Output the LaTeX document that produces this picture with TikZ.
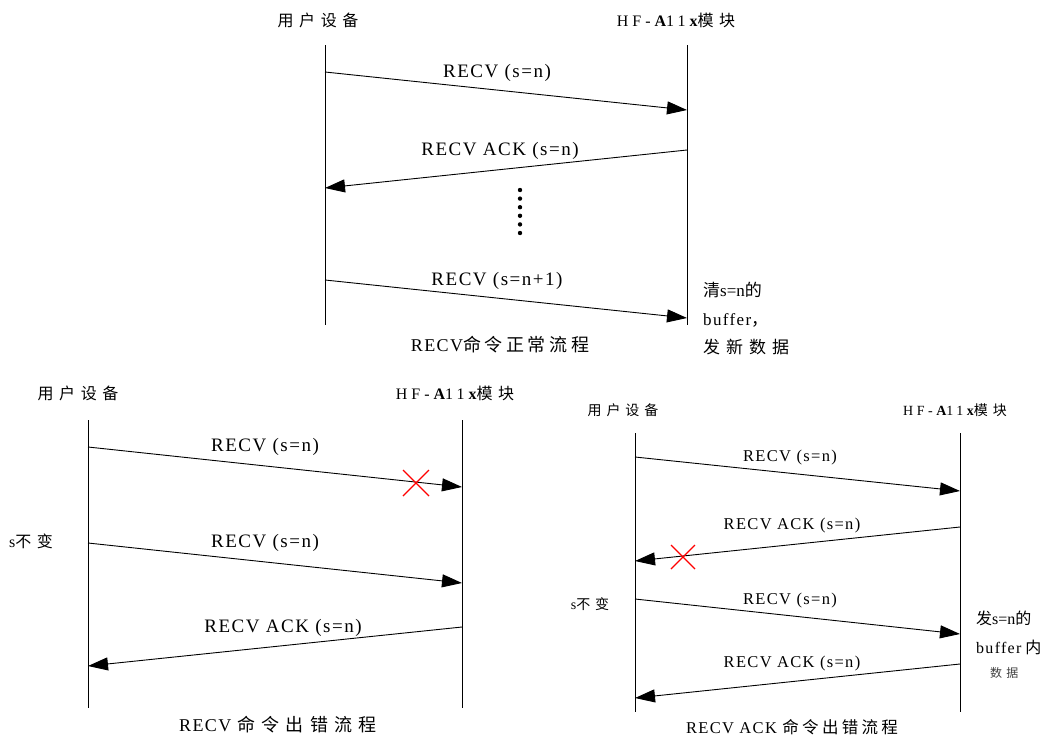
\documentclass[tikz,border=0pt]{standalone}
\usepackage{fontspec}
\setmainfont{Liberation Serif}
\newfontfamily\cjk{Noto Sans CJK SC}
\newfontfamily\wide[LetterSpace=8]{Liberation Serif}
\newfontfamily\xwide[LetterSpace=25]{Liberation Serif}
\newfontfamily\cjkwide[LetterSpace=35]{Noto Sans CJK SC}
\newfontfamily\cjkmid[LetterSpace=20]{Noto Sans CJK SC}
\usetikzlibrary{arrows.meta,positioning}

\newcommand{\hfmod}{{\xwide HF-}\textbf{A}{\xwide 11}\textbf{x}{\cjkwide 模块}}
\newcommand{\userdev}{{\cjkwide 用户设备}}
\newcommand{\schg}{s{\cjkwide 不变}}

\tikzset{
  life/.style={line width=0.9pt},
  msg/.style={line width=0.9pt,-{Triangle[length=20pt,width=13pt]}},
  lab/.style={font=\wide\fontsize{19}{22}\selectfont,inner sep=1pt},
  labs/.style={font=\wide\fontsize{16.5}{19}\selectfont,inner sep=1pt},
  capt/.style={font=\wide\fontsize{18}{21}\selectfont,inner sep=1pt},
  head/.style={font=\fontsize{16}{19}\selectfont,inner sep=1pt},
  note/.style={font=\fontsize{17}{28.5}\selectfont,align=left,anchor=north west,inner sep=1pt},
  cross/.style={red,line width=1.1pt},
}

\begin{document}
\begin{tikzpicture}[x=1pt,y=-1pt]
  \useasboundingbox (0,0) rectangle (1050,740);
  % ---- RECV normal flow (top)
  \coordinate (uT) at (325,45);  \coordinate (uB) at (325,325);
  \coordinate (mT) at (687,45);  \coordinate (mB) at (687,325);
  \draw[life] (uT)--(uB);
  \draw[life] (mT)--(mB);
  \node[head] (uN) at (318,20) {\userdev};
  \node[head] (mN) at (676,20) {\hfmod};
  \coordinate (a1) at (325,72);  \coordinate (b1) at (687,110);
  \coordinate (a2) at (687,150); \coordinate (b2) at (325,188);
  \coordinate (a3) at (325,280); \coordinate (b3) at (687,318);
  \draw[msg] (a1)--(b1);
  \draw[msg] (a2)--(b2);
  \draw[msg] (a3)--(b3);
  \node[lab] (l1) at (497,73) {RECV (s=n)};
  \node[lab] (l2) at (500,151) {RECV ACK (s=n)};
  \node[lab] (l3) at (497,281) {RECV (s=n+1)};
  \foreach \k in {0,...,5}
    \fill (520,190+8.6*\k) circle (2.2);
  \node[note] (n1) at (702,281) {{\cjk 清}s=n{\cjk 的}\\{\wide buffer}{\cjk ，}\\{\cjkwide 发新数据}};
  \node[capt] (c1) at (500,345) {RECV{\cjkmid 命令正常流程}};

  % ---- RECV error flow (bottom left)
  \coordinate (uT2) at (88,420);  \coordinate (uB2) at (88,708);
  \coordinate (mT2) at (462,420); \coordinate (mB2) at (462,708);
  \draw[life] (uT2)--(uB2);
  \draw[life] (mT2)--(mB2);
  \node[head] (uN2) at (78,393) {\userdev};
  \node[head] (mN2) at (455,393) {\hfmod};
  \coordinate (d1) at (88,447);  \coordinate (e1) at (462,487);
  \coordinate (d2) at (88,543);  \coordinate (e2) at (462,583);
  \coordinate (d3) at (462,627); \coordinate (e3) at (88,666);
  \draw[msg] (d1)--(e1);
  \draw[msg] (d2)--(e2);
  \draw[msg] (d3)--(e3);
  \node[lab] (k1) at (265,447) {RECV (s=n)};
  \node[lab] (k2) at (265,543) {RECV (s=n)};
  \node[lab] (k3) at (283,628) {RECV ACK (s=n)};
  \coordinate (x1) at (416,483);
  \draw[cross] (x1) ++(-13,-13) -- ++(26,26) (x1) ++(13,-13) -- ++(-26,26);
  \node[head] (s2) at (31,541) {\schg};
  \node[capt] (c2) at (278,725) {RECV {\cjkwide 命令出错流程}};

  % ---- RECV ACK error flow (bottom right)
  \coordinate (uT3) at (635,433); \coordinate (uB3) at (635,712);
  \coordinate (mT3) at (960,433); \coordinate (mB3) at (960,712);
  \draw[life] (uT3)--(uB3);
  \draw[life] (mT3)--(mB3);
  \node[head,font=\fontsize{14}{17}\selectfont] (uN3) at (623,410) {\userdev};
  \node[head,font=\fontsize{14}{17}\selectfont] (mN3) at (955,410) {\hfmod};
  \coordinate (f1) at (635,457); \coordinate (g1) at (960,491);
  \coordinate (f2) at (960,527); \coordinate (g2) at (635,561);
  \coordinate (f3) at (635,599); \coordinate (g3) at (960,634);
  \coordinate (f4) at (960,664); \coordinate (g4) at (635,698);
  \draw[msg] (f1)--(g1);
  \draw[msg] (f2)--(g2);
  \draw[msg] (f3)--(g3);
  \draw[msg] (f4)--(g4);
  \node[labs] (h1) at (790,458) {RECV (s=n)};
  \node[labs] (h2) at (792,526) {RECV ACK (s=n)};
  \node[labs] (h3) at (790,601) {RECV (s=n)};
  \node[labs] (h4) at (792,664) {RECV ACK (s=n)};
  \coordinate (x2) at (683,557);
  \draw[cross] (x2) ++(-12,-12) -- ++(24,24) (x2) ++(12,-12) -- ++(-24,24);
  \node[head,font=\fontsize{14}{17}\selectfont] (s3) at (590,604) {\schg};
  \node[note,font=\fontsize{16}{29}\selectfont] (n3) at (975,610) {{\cjk 发}s=n{\cjk 的}\\{\wide buffer} {\cjk 内}\\[-5pt]\hspace*{14pt}{\cjkwide\fontsize{12}{14}\selectfont\color{black!75} 数据}};
  \node[labs] (c3) at (792,727) {RECV ACK {\cjkmid 命令出错流程}};
\end{tikzpicture}
\end{document}
